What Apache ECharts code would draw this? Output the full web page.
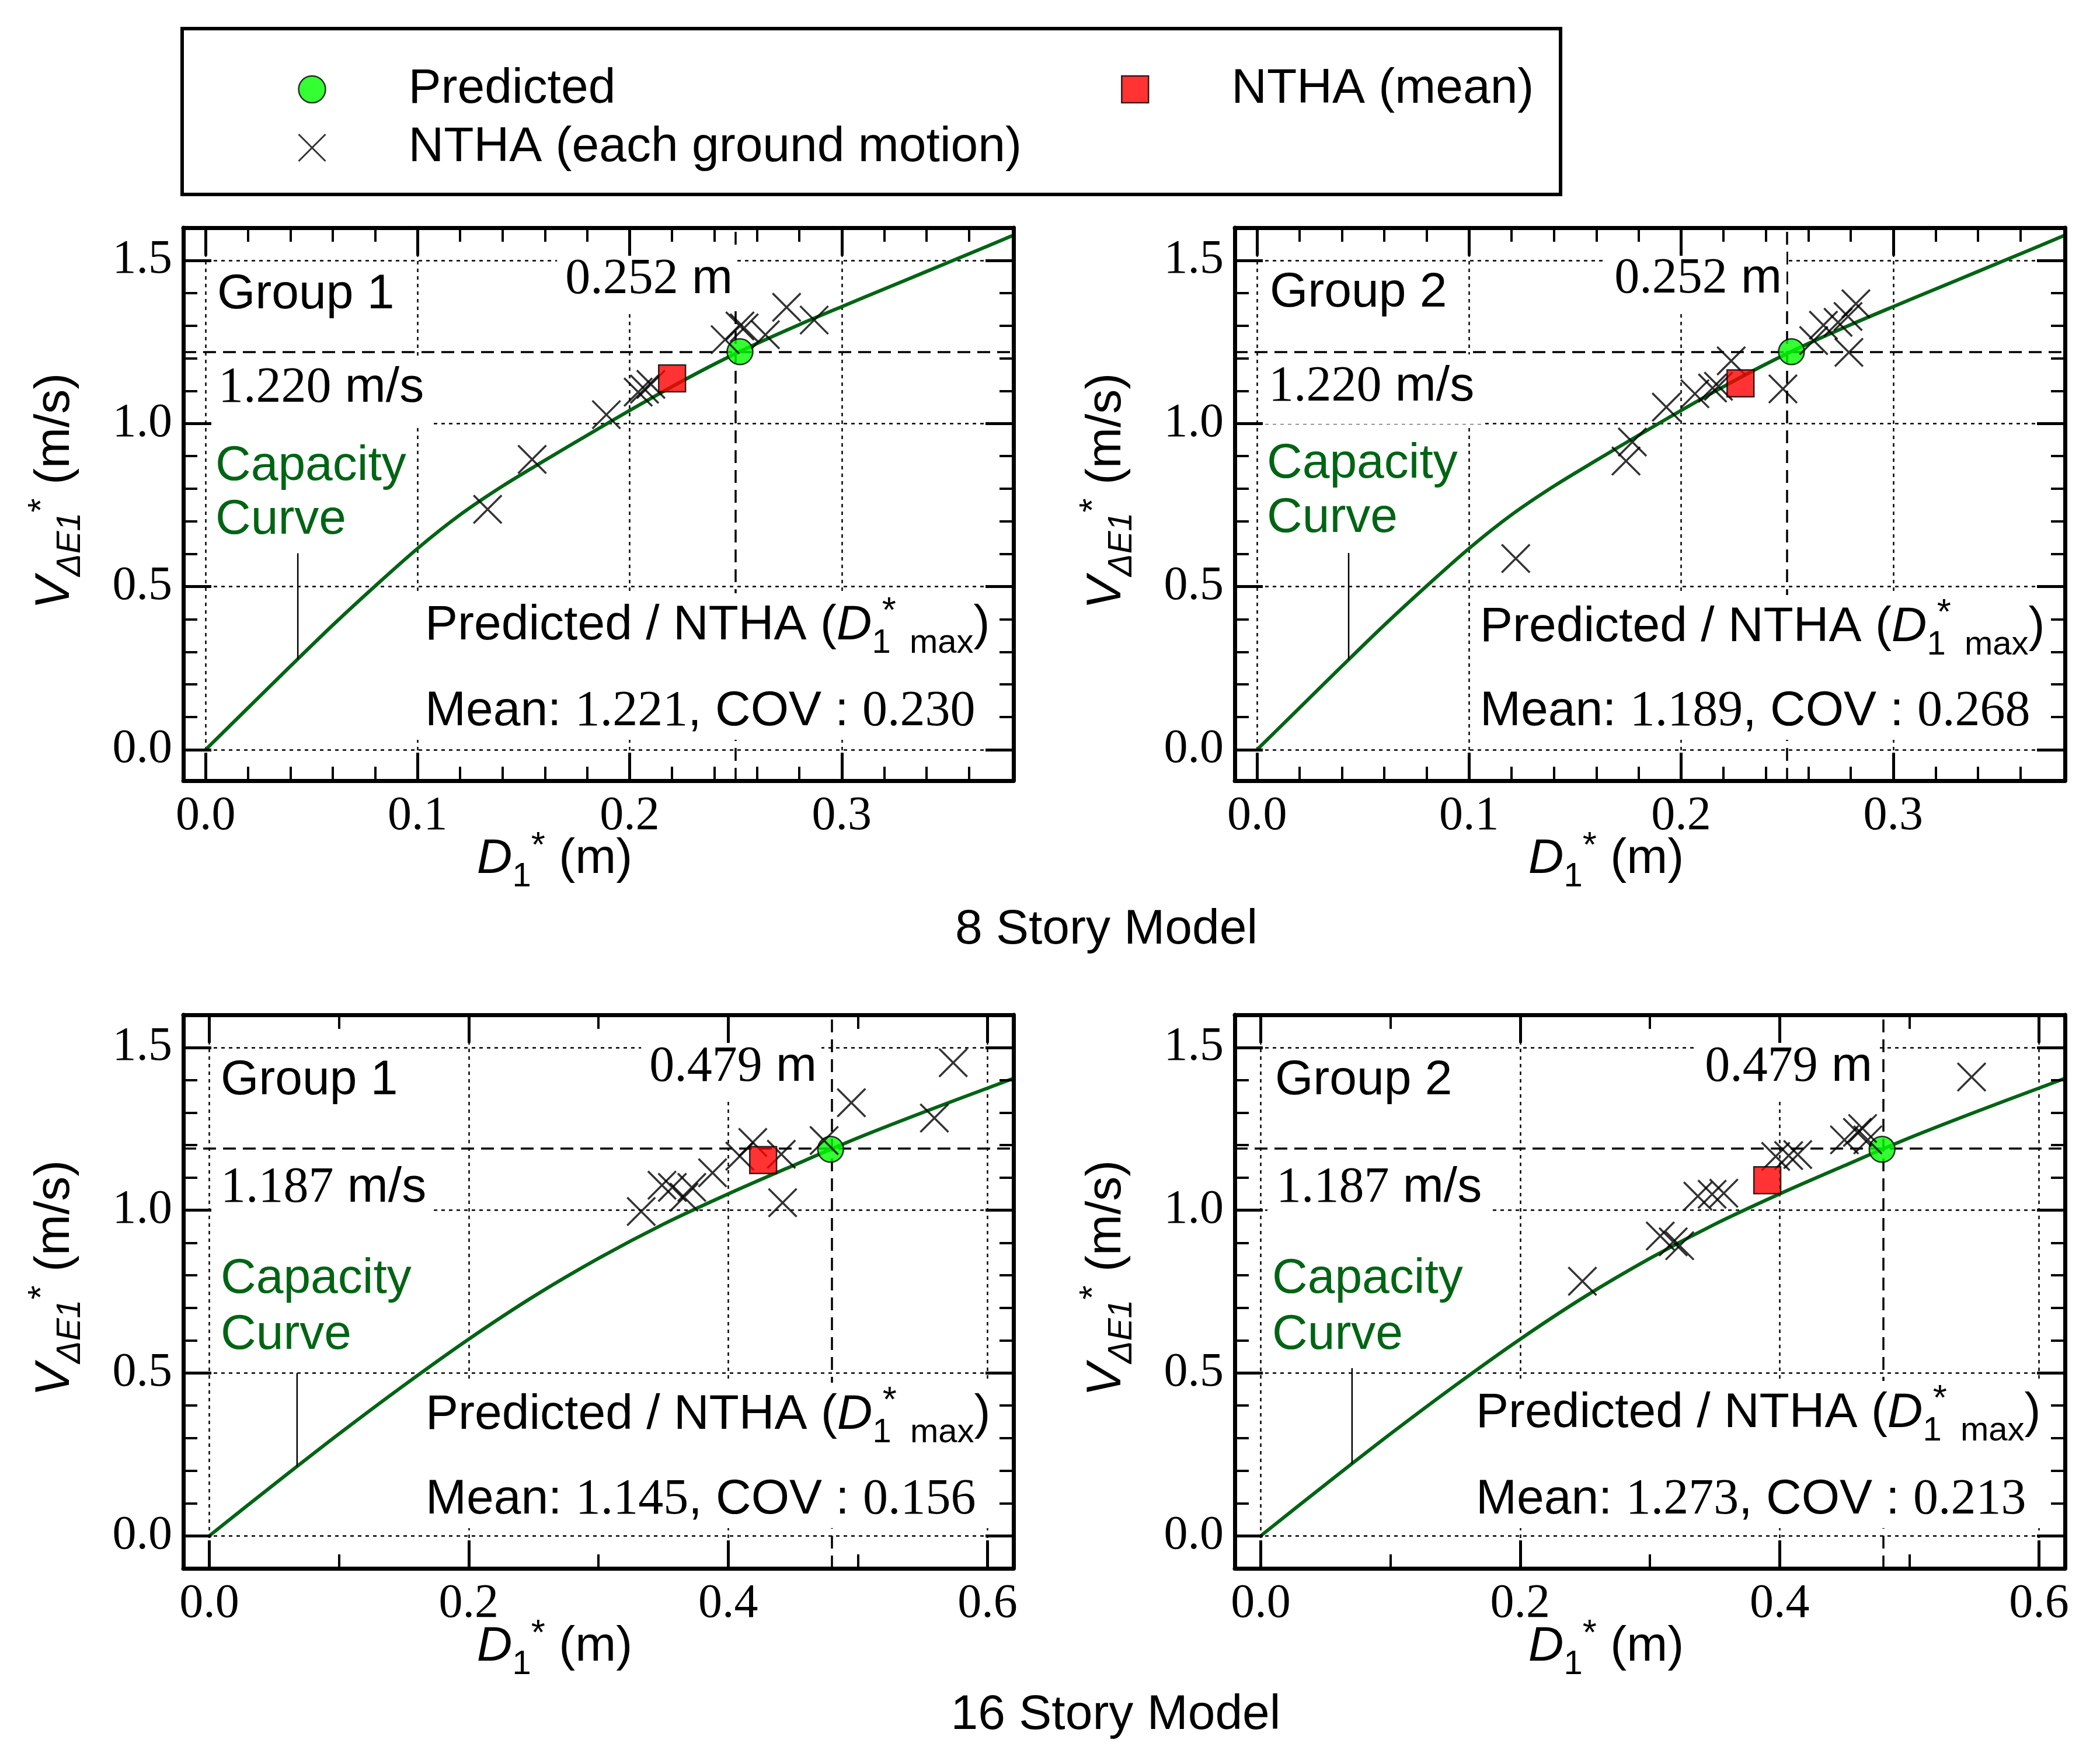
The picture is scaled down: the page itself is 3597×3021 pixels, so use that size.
<!DOCTYPE html>
<html><head><meta charset="utf-8">
<script src="https://cdn.jsdelivr.net/npm/echarts@6/dist/echarts.min.js"></script>
<style>html,body{margin:0;padding:0;background:#fff}#c{width:3597px;height:3021px}</style>
</head><body><div id="c"></div>
<script>
// ---------------- DATA ----------------
// Capacity curves (D1* in m, V_dE1* in m/s)
const curve8X = [0, 0.02, 0.04, 0.06, 0.08, 0.10, 0.12, 0.14, 0.16, 0.18, 0.20, 0.22, 0.24, 0.26, 0.28, 0.30, 0.32, 0.34, 0.36, 0.381];
const curve8Y = [0, 0.128, 0.256, 0.382, 0.502, 0.617, 0.720, 0.808, 0.887, 0.964, 1.040, 1.113, 1.182, 1.245, 1.303, 1.358, 1.412, 1.466, 1.520, 1.577];
const curve16X = [0, 0.05, 0.10, 0.15, 0.20, 0.25, 0.30, 0.35, 0.40, 0.45, 0.50, 0.55, 0.60, 0.62];
const curve16Y = [0, 0.158, 0.313, 0.462, 0.604, 0.735, 0.852, 0.957, 1.050, 1.137, 1.222, 1.300, 1.375, 1.405];

// NTHA, each ground motion
const gm8g1X = [0.133, 0.154, 0.189, 0.204, 0.207, 0.210, 0.245, 0.252, 0.254, 0.264, 0.274, 0.287];
const gm8g1Y = [0.737, 0.890, 1.027, 1.096, 1.105, 1.120, 1.257, 1.299, 1.293, 1.272, 1.356, 1.317];
const gm8g2X = [0.122, 0.174, 0.177, 0.193, 0.2065, 0.2148, 0.2176, 0.2236, 0.248, 0.2625, 0.2671, 0.274, 0.2787, 0.2824, 0.2791];
const gm8g2Y = [0.586, 0.885, 0.943, 1.050, 1.091, 1.1085, 1.114, 1.192, 1.106, 1.254, 1.301, 1.310, 1.328, 1.367, 1.218];
const gm16g1X = [0.333, 0.349, 0.357, 0.366, 0.372, 0.388, 0.409, 0.419, 0.441, 0.442, 0.474, 0.495, 0.559, 0.5735];
const gm16g1Y = [0.996, 1.077, 1.070, 1.040, 1.070, 1.115, 1.166, 1.208, 1.172, 1.023, 1.214, 1.330, 1.283, 1.453];
const gm16g2X = [0.248, 0.308, 0.318, 0.323, 0.337, 0.348, 0.357, 0.397, 0.407, 0.414, 0.450, 0.460, 0.464, 0.468, 0.548];
const gm16g2Y = [0.782, 0.921, 0.903, 0.891, 1.043, 1.049, 1.052, 1.165, 1.168, 1.171, 1.216, 1.239, 1.251, 1.216, 1.409];

// NTHA mean and predicted points
const mean8g1 = [0.220, 1.138];
const mean8g2 = [0.228, 1.123];
const mean16g1 = [0.427, 1.154];
const mean16g2 = [0.3905, 1.092];
const pred8 = [0.252, 1.220];
const pred16 = [0.479, 1.187];

// "Capacity Curve" pointer lines
const ptr8g1X = [0.0435, 0.0435], ptr8g1Y = [0.602, 0.277];
const ptr8g2X = [0.0432, 0.0432], ptr8g2Y = [0.603, 0.276];
const ptr16g1X = [0.0677, 0.0677], ptr16g1Y = [0.500, 0.213];
const ptr16g2X = [0.0704, 0.0704], ptr16g2Y = [0.515, 0.221];

// Ticks
const xTicks8 = [0, 0.1, 0.2, 0.3];
const xMinor8 = [0.02, 0.04, 0.06, 0.08, 0.12, 0.14, 0.16, 0.18, 0.22, 0.24, 0.26, 0.28, 0.32, 0.34, 0.36];
const xTicks16 = [0, 0.2, 0.4, 0.6];
const xMinor16 = [0.1, 0.3, 0.5];
const yTicks = [0, 0.5, 1.0, 1.5];
const yMinor = [0.1, 0.2, 0.3, 0.4, 0.6, 0.7, 0.8, 0.9, 1.1, 1.2, 1.3, 1.4];

// Texts
const groupNames = ['Group 1', 'Group 2', 'Group 1', 'Group 2'];
const dLabels = ['0.252', '0.252', '0.479', '0.479'];
const vLabels = ['1.220', '1.220', '1.187', '1.187'];
const ratioMean = ['1.221', '1.189', '1.145', '1.273'];
const ratioCOV = ['0.230', '0.268', '0.156', '0.213'];
const modelTitles = ['8 Story Model', '16 Story Model'];
const legendNames = ['Predicted', 'NTHA (each ground motion)', 'NTHA (mean)'];

// ---------------- STYLE / LAYOUT ----------------
const GREEN = '#006414';
const SANS = '"Liberation Sans", Arial, sans-serif';
const SERIF = '"Liberation Serif", "Times New Roman", serif';
const XPATH = 'path://M0,0L48,48M0,48L48,0';
const zip = (a, b) => a.map((v, i) => [v, b[i]]);

const panels = [
  {L: 314, T: 390, W: 1422, H: 947, xMin: -0.0105, xMax: 0.381, yMin: -0.095, yMax: 1.6, xTicks: xTicks8, xMinor: xMinor8,
   cx: curve8X, cy: curve8Y, gx: gm8g1X, gy: gm8g1Y, mean: mean8g1, pred: pred8, px: ptr8g1X, py: ptr8g1Y,
   lay: {group: [58, 115], dR: [941, 89], v: [60, 275], cap: [55, 409], cur: [55, 501], pr: [414, 682], me: [414, 829]}},
  {L: 2115, T: 390, W: 1422, H: 947, xMin: -0.0105, xMax: 0.381, yMin: -0.095, yMax: 1.6, xTicks: xTicks8, xMinor: xMinor8,
   cx: curve8X, cy: curve8Y, gx: gm8g2X, gy: gm8g2Y, mean: mean8g2, pred: pred8, px: ptr8g2X, py: ptr8g2Y,
   lay: {group: [60, 112], dR: [937, 88], v: [58, 273], cap: [55, 405], cur: [55, 498], pr: [420, 685], me: [420, 829]}},
  {L: 314, T: 1738, W: 1422, H: 948, xMin: -0.02, xMax: 0.62, yMin: -0.1, yMax: 1.6, xTicks: xTicks16, xMinor: xMinor16,
   cx: curve16X, cy: curve16Y, gx: gm16g1X, gy: gm16g1Y, mean: mean16g1, pred: pred16, px: ptr16g1X, py: ptr16g1Y,
   lay: {group: [64, 113], dR: [1085, 90], v: [64, 297], cap: [64, 453], cur: [64, 549], pr: [415, 686], me: [415, 831]}},
  {L: 2115, T: 1738, W: 1422, H: 948, xMin: -0.02, xMax: 0.62, yMin: -0.1, yMax: 1.6, xTicks: xTicks16, xMinor: xMinor16,
   cx: curve16X, cy: curve16Y, gx: gm16g2X, gy: gm16g2Y, mean: mean16g2, pred: pred16, px: ptr16g2X, py: ptr16g2Y,
   lay: {group: [69, 113], dR: [1092, 90], v: [71, 297], cap: [64, 453], cur: [64, 549], pr: [413, 683], me: [413, 831]}}
];

// ---------------- TEXT HELPERS ----------------
const mctx = document.createElement('canvas').getContext('2d');
function cssFont(s) { return (s.it ? 'italic ' : '') + (s.sz || 84) + 'px ' + (s.sf ? SERIF : SANS); }
function tw(s) { mctx.font = cssFont(s); return mctx.measureText(s.t).width; }
function layoutSeq(segs) {
  let x = 0; const items = [];
  segs.forEach(s => { items.push({s, x}); if (!s.na) x += tw(s); });
  return {items, width: x};
}
function txtStyle(s, color) {
  return {text: s.t, fontSize: s.sz || 84, fontFamily: s.sf ? SERIF : SANS, fontStyle: s.it ? 'italic' : 'normal',
          fill: color || '#000', align: 'left', verticalAlign: 'middle'};
}
const bgEls = [], fgEls = [];
function addSeq(segs, x, y, align, color, pad) {
  const {items, width} = layoutSeq(segs);
  const x0 = align === 'right' ? x - width : align === 'center' ? x - width / 2 : x;
  if (pad) {
    bgEls.push({type: 'rect', z: 2, silent: true,
      shape: {x: x0 - pad[3], y: y - 42 - pad[0], width: width + pad[1] + pad[3], height: 84 + pad[0] + pad[2]},
      style: {fill: '#fff'}});
  }
  items.forEach(it => fgEls.push({type: 'text', z: 2, silent: true, x: x0 + it.x, y: y + (it.s.dy || 0), style: txtStyle(it.s, color)}));
  return {x0, width};
}
function addRotSeq(segs, x, y) {
  const {items, width} = layoutSeq(segs);
  fgEls.push({type: 'group', x, y, rotation: Math.PI / 2, silent: true,
    children: items.map(it => ({type: 'text', z: 2, x: -width / 2 + it.x, y: (it.s.dy || 0), style: txtStyle(it.s)}))});
}

// ---------------- AXES ----------------
function axisSet(i, p, isX) {
  const min = isX ? p.xMin : p.yMin, max = isX ? p.xMax : p.yMax;
  const majors = isX ? p.xTicks : yTicks, minors = isX ? p.xMinor : yMinor;
  const pos = isX ? ['bottom', 'top'] : ['left', 'right'];
  const out = [];
  pos.forEach((ps, k) => {
    out.push({type: 'value', gridIndex: i, position: ps, min, max, z: 8, silent: true,
      axisLine: {show: true, onZero: false, lineStyle: {color: '#000', width: 7}},
      axisTick: {show: true, inside: true, length: 48, customValues: majors, lineStyle: {color: '#000', width: 5}},
      axisLabel: k === 0 ? {show: true, customValues: majors, formatter: v => v.toFixed(1), fontFamily: SERIF, fontSize: 82, color: '#000', margin: isX ? 20 : 19} : {show: false},
      splitLine: {show: false}, splitArea: {show: false}, axisPointer: {show: false}});
    out.push({type: 'value', gridIndex: i, position: ps, min, max, z: 8, silent: true,
      axisLine: {show: false, onZero: false},
      axisTick: {show: true, inside: true, length: 24, customValues: minors, lineStyle: {color: '#000', width: 4}},
      axisLabel: {show: false}, splitLine: {show: false}, splitArea: {show: false}, axisPointer: {show: false}});
  });
  return out;
}

// ---------------- BUILD ----------------
const xAxes = [], yAxes = [], series = [];
panels.forEach((p, i) => {
  xAxes.push(...axisSet(i, p, true));
  yAxes.push(...axisSet(i, p, false));
  const ax = {xAxisIndex: 4 * i, yAxisIndex: 4 * i};
  series.push({type: 'line', name: 'Capacity Curve', ...ax, data: zip(p.cx, p.cy), symbol: 'none', smooth: 0.3, z: 4, silent: true,
    lineStyle: {color: GREEN, width: 6},
    markLine: {silent: true, symbol: 'none', z: 1, label: {show: false}, emphasis: {disabled: true},
      lineStyle: {type: [6, 7], width: 2.5, color: '#000'},
      data: [...p.xTicks.map(v => ({xAxis: v})), ...yTicks.map(v => ({yAxis: v}))]}});
  series.push({type: 'line', name: 'pointer', ...ax, data: zip(p.px, p.py), symbol: 'none', z: 4, silent: true,
    lineStyle: {color: '#000', width: 2.5},
    markLine: {silent: true, symbol: 'none', z: 1, label: {show: false}, emphasis: {disabled: true},
      lineStyle: {type: [22, 12], width: 3.5, color: '#000'},
      data: [{xAxis: p.pred[0]}, {yAxis: p.pred[1]}]}});
  series.push({type: 'scatter', name: legendNames[0], ...ax, data: [p.pred], symbol: 'circle', symbolSize: 44, z: 5,
    itemStyle: {color: '#00ff00', borderColor: '#000', borderWidth: 2.5}});
  series.push({type: 'scatter', name: legendNames[1], ...ax, data: zip(p.gx, p.gy), symbol: XPATH, symbolSize: 48, z: 6,
    itemStyle: {color: 'rgba(0,0,0,0)', borderColor: '#000', borderWidth: 3.5}});
  series.push({type: 'scatter', name: legendNames[2], ...ax, data: [p.mean], symbol: 'rect', symbolSize: 46, z: 7,
    itemStyle: {color: '#ff0000', borderColor: '#000', borderWidth: 2.5}});

  // annotations
  const L = p.L, T = p.T, a = p.lay;
  addSeq([{t: groupNames[i]}], L + a.group[0], T + a.group[1], 'left', '#000', [8, 8, 8, 8]);
  addSeq([{t: dLabels[i], sf: 1, sz: 86}, {t: ' m'}], L + a.dR[0], T + a.dR[1], 'right', '#000', [12, 8, 12, 14]);
  addSeq([{t: vLabels[i], sf: 1, sz: 86}, {t: ' m/s'}], L + a.v[0], T + a.v[1], 'left', '#000', [14, 13, 21, 15]);
  addSeq([{t: 'Capacity'}], L + a.cap[0], T + a.cap[1], 'left', GREEN, [10, 10, 10, 10]);
  addSeq([{t: 'Curve'}], L + a.cur[0], T + a.cur[1], 'left', GREEN, [10, 10, 10, 10]);
  const r1 = addSeq([{t: 'Predicted / NTHA ('}, {t: 'D', it: 1}, {t: ' *', sz: 62, dy: -24, na: 1}, {t: '1  max', sz: 58, dy: 30}, {t: ')'}],
    L + a.pr[0], T + a.pr[1], 'left', '#000', null);
  const r2 = addSeq([{t: 'Mean: '}, {t: ratioMean[i], sf: 1, sz: 86}, {t: ', COV : '}, {t: ratioCOV[i], sf: 1, sz: 86}],
    L + a.me[0], T + a.me[1], 'left', '#000', null);
  const bx = Math.min(r1.x0, r2.x0) - 14, by = T + a.pr[1] - 56;
  bgEls.push({type: 'rect', z: 2, silent: true, shape: {x: bx, y: by, width: Math.max(r1.width, r2.width) + 28, height: (a.me[1] - a.pr[1]) + 104},
    style: {fill: '#fff'}});
  // axis titles
  addSeq([{t: 'D', it: 1}, {t: '1', sz: 58, dy: 30}, {t: '*', sz: 62, dy: -22}, {t: ' (m)'}], L + 636, T + p.H + 135, 'center', '#000', null);
  addRotSeq([{t: 'V', it: 1}, {t: 'ΔE1', it: 1, sz: 58, dy: 26}, {t: '*', sz: 62, dy: -22}, {t: ' (m/s)'}], L - 219, T + 451);
});
addSeq([{t: modelTitles[0]}], 1895, 1593, 'center', '#000', null);
addSeq([{t: modelTitles[1]}], 1911, 2938, 'center', '#000', null);

const legendBox = {type: 'rect', z: 2, silent: true, shape: {x: 312, y: 49, width: 2361, height: 284},
  style: {fill: 'none', stroke: '#000', lineWidth: 6}};

const option = {
  animation: false,
  backgroundColor: '#fff',
  grid: panels.map(p => ({left: p.L, top: p.T, width: p.W, height: p.H, containLabel: false, outerBoundsMode: 'none', show: false})),
  xAxis: xAxes,
  yAxis: yAxes,
  legend: [
    {orient: 'vertical', left: 510, top: 111, itemWidth: 46, itemHeight: 46, itemGap: 16, padding: 0, selectedMode: false,
     data: [{name: legendNames[0], itemStyle: {borderWidth: 2.5}}, {name: legendNames[1], itemStyle: {borderWidth: 3}}],
     textStyle: {fontFamily: SANS, fontSize: 84, color: '#000', padding: [0, 0, 0, 137]}},
    {orient: 'vertical', left: 1920, top: 111, itemWidth: 46, itemHeight: 46, itemGap: 16, padding: 0, selectedMode: false,
     data: [{name: legendNames[2], itemStyle: {borderWidth: 2.5}}],
     textStyle: {fontFamily: SANS, fontSize: 84, color: '#000', padding: [0, 0, 0, 137]}}
  ],
  graphic: {z: 2, elements: [legendBox, ...bgEls, ...fgEls]},
  series
};
const chart = echarts.init(document.getElementById('c'), null, {renderer: 'canvas'});
chart.setOption(option);
</script></body></html>
